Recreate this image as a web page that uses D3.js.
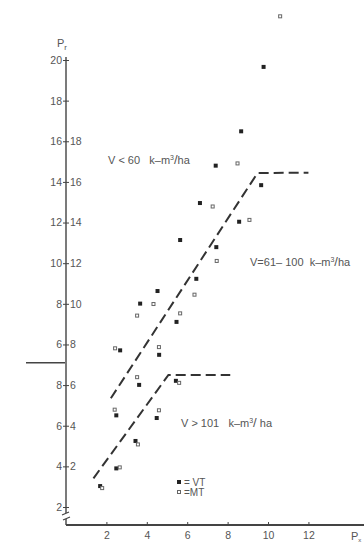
<!DOCTYPE html>
<html>
<head>
<meta charset="utf-8">
<script src="https://cdn.jsdelivr.net/npm/d3@7"></script>
<style>
  body { margin: 0; background: #fff; }
  svg { display: block; }
  text { font-family: "Liberation Sans", Arial, sans-serif; fill: #555; white-space: pre; }
</style>
</head>
<body>
<svg id="chart" width="364" height="543"></svg>
<script>
// Stand measurements: P_x (horizontal) against P_r (vertical, right-hand scale)
const vtX = [9.78, 8.67, 7.41, 9.66, 6.63, 8.57, 5.65, 7.44, 6.45, 4.53, 3.67, 5.47, 2.68, 4.61, 3.62, 5.44, 2.49, 4.49, 3.44, 2.49, 1.69];
const vtY = [21.66, 18.49, 16.80, 15.84, 14.96, 14.04, 13.14, 12.79, 11.23, 10.63, 10.01, 9.11, 7.71, 7.49, 6.01, 6.21, 4.51, 4.38, 3.25, 1.90, 1.03];
const mtX = [10.60, 8.49, 9.08, 7.26, 7.46, 6.36, 4.33, 3.52, 5.65, 2.43, 4.60, 3.52, 5.60, 2.41, 4.60, 3.56, 2.66, 1.79];
const mtY = [24.15, 16.91, 14.13, 14.79, 12.11, 10.45, 9.99, 9.42, 9.53, 7.81, 7.87, 6.39, 6.11, 4.79, 4.76, 3.08, 1.95, 0.93];

// Broken-stick trend lines
const trendUpperX = [2.22, 9.48, 12.0];
const trendUpperY = [5.35, 16.44, 16.45];
const trendLowerX = [1.36, 5.07, 8.13];
const trendLowerY = [1.41, 6.50, 6.50];

// Axis ticks and their labels
const xTicks = [2, 4, 6, 8, 10, 12];
const yTicks = [0, 2, 4, 6, 8, 10, 12, 14, 16, 18, 20, 22];
const yLabelsLeft = ["2", "4", "6", "8", "6", "8", "10", "12", "14", "16", "18", "20"];
const yLabelsRight = ["", "2", "4", "6", "8", "10", "12", "14", "16", "18", "", ""];

const svg = d3.select("#chart");
const x = d3.scaleLinear().domain([0, 14.8]).range([66, 365]);
const y = d3.scaleLinear().domain([0, 22]).range([507, 60]);
const axisX = x(0), baseY = 525;

// Vertical axis line with break near the bottom
svg.append("path")
  .attr("d", `M${axisX},${y(22) - 3}V${baseY - 12} M${axisX},${baseY - 6}V${baseY}`)
  .attr("stroke", "#444").attr("stroke-width", 1.4).attr("fill", "none");
svg.append("path")
  .attr("d", `M${axisX - 4},${baseY - 10}L${axisX + 3},${baseY - 13} M${axisX - 3},${baseY - 5}L${axisX + 4},${baseY - 8}`)
  .attr("stroke", "#444").attr("stroke-width", 1.2).attr("fill", "none");

// Horizontal axis
svg.append("line")
  .attr("x1", axisX).attr("x2", 364).attr("y1", baseY).attr("y2", baseY)
  .attr("stroke", "#444").attr("stroke-width", 2);

// Separator between the two label sets
svg.append("line")
  .attr("x1", axisX - 40).attr("x2", axisX - 1).attr("y1", y(7.1)).attr("y2", y(7.1))
  .attr("stroke", "#444").attr("stroke-width", 1.3);

// Y axis: labels on both sides of the line
const yl = svg.append("g").attr("transform", `translate(${axisX},0)`)
  .call(d3.axisLeft(y).tickValues(yTicks).tickSize(3).tickPadding(1)
    .tickFormat((d, i) => yLabelsLeft[i]));
const yr = svg.append("g").attr("transform", `translate(${axisX},0)`)
  .call(d3.axisRight(y).tickValues(yTicks).tickSize(3).tickPadding(1)
    .tickFormat((d, i) => yLabelsRight[i]));
[yl, yr].forEach(g => {
  g.select(".domain").remove();
  g.selectAll("line").attr("stroke", "#444");
  g.selectAll("text").attr("font-size", 10.5).attr("fill", "#555")
    .attr("font-family", '"Liberation Sans", Arial, sans-serif');
});

// X axis ticks
const xa = svg.append("g").attr("transform", `translate(0,${baseY})`)
  .call(d3.axisBottom(x).tickValues(xTicks).tickSize(0).tickPadding(7).tickFormat(d3.format("d")));
xa.select(".domain").remove();
xa.selectAll("text").attr("font-size", 10.5).attr("fill", "#555")
  .attr("font-family", '"Liberation Sans", Arial, sans-serif');
xa.selectAll(".tick").append("line").attr("y1", -3).attr("y2", 0).attr("stroke", "#444");

// Axis titles
const pr = svg.append("text").attr("x", axisX - 9).attr("y", y(22) - 13).attr("font-size", 11);
pr.append("tspan").text("P");
pr.append("tspan").attr("font-size", 8).attr("dy", 3).text("r");
const px = svg.append("text").attr("x", 351).attr("y", 540).attr("font-size", 11);
px.append("tspan").text("P");
px.append("tspan").attr("font-size", 6).attr("dy", 2).text("x");

// Trend lines
const line = d3.line().x(d => x(d[0])).y(d => y(d[1]));
[[trendUpperX, trendUpperY], [trendLowerX, trendLowerY]].forEach(([xs, ys]) => {
  svg.append("path")
    .attr("d", line(d3.zip(xs, ys)))
    .attr("fill", "none").attr("stroke", "#333").attr("stroke-width", 2)
    .attr("stroke-dasharray", "10,5");
});

// Points: filled = VT, open = MT
const s = 4;
svg.append("g").selectAll("rect").data(d3.zip(vtX, vtY)).join("rect")
  .attr("x", d => x(d[0]) - s / 2).attr("y", d => y(d[1]) - s / 2)
  .attr("width", s).attr("height", s).attr("fill", "#222");
svg.append("g").selectAll("rect").data(d3.zip(mtX, mtY)).join("rect")
  .attr("x", d => x(d[0]) - s / 2 + 0.5).attr("y", d => y(d[1]) - s / 2 + 0.5)
  .attr("width", s - 1).attr("height", s - 1).attr("fill", "#fff")
  .attr("stroke", "#666").attr("stroke-width", 1);

// Region labels
function regionLabel(px0, py0, lead, gap, tail) {
  const t = svg.append("text").attr("x", px0).attr("y", py0).attr("font-size", 11);
  t.append("tspan").text(lead + gap + "k–m");
  t.append("tspan").attr("font-size", 7).attr("dy", -4).text("3");
  t.append("tspan").attr("dy", 4).attr("font-size", 13).text("/");
  t.append("tspan").text(tail);
}
regionLabel(108, 164, "V < 60", "   ", "ha");
regionLabel(250, 266, "V=61– 100", "  ", "ha");
regionLabel(181, 427, "V > 101", "   ", " ha");

// Legend
const lg = svg.append("g");
lg.append("rect").attr("x", 177).attr("y", 480).attr("width", 4).attr("height", 4).attr("fill", "#222");
lg.append("text").attr("x", 184).attr("y", 486).attr("font-size", 10).text("= VT");
lg.append("rect").attr("x", 177.5).attr("y", 490.5).attr("width", 3).attr("height", 3)
  .attr("fill", "#fff").attr("stroke", "#666");
lg.append("text").attr("x", 184).attr("y", 496).attr("font-size", 10).text("=MT");
</script>
</body>
</html>
